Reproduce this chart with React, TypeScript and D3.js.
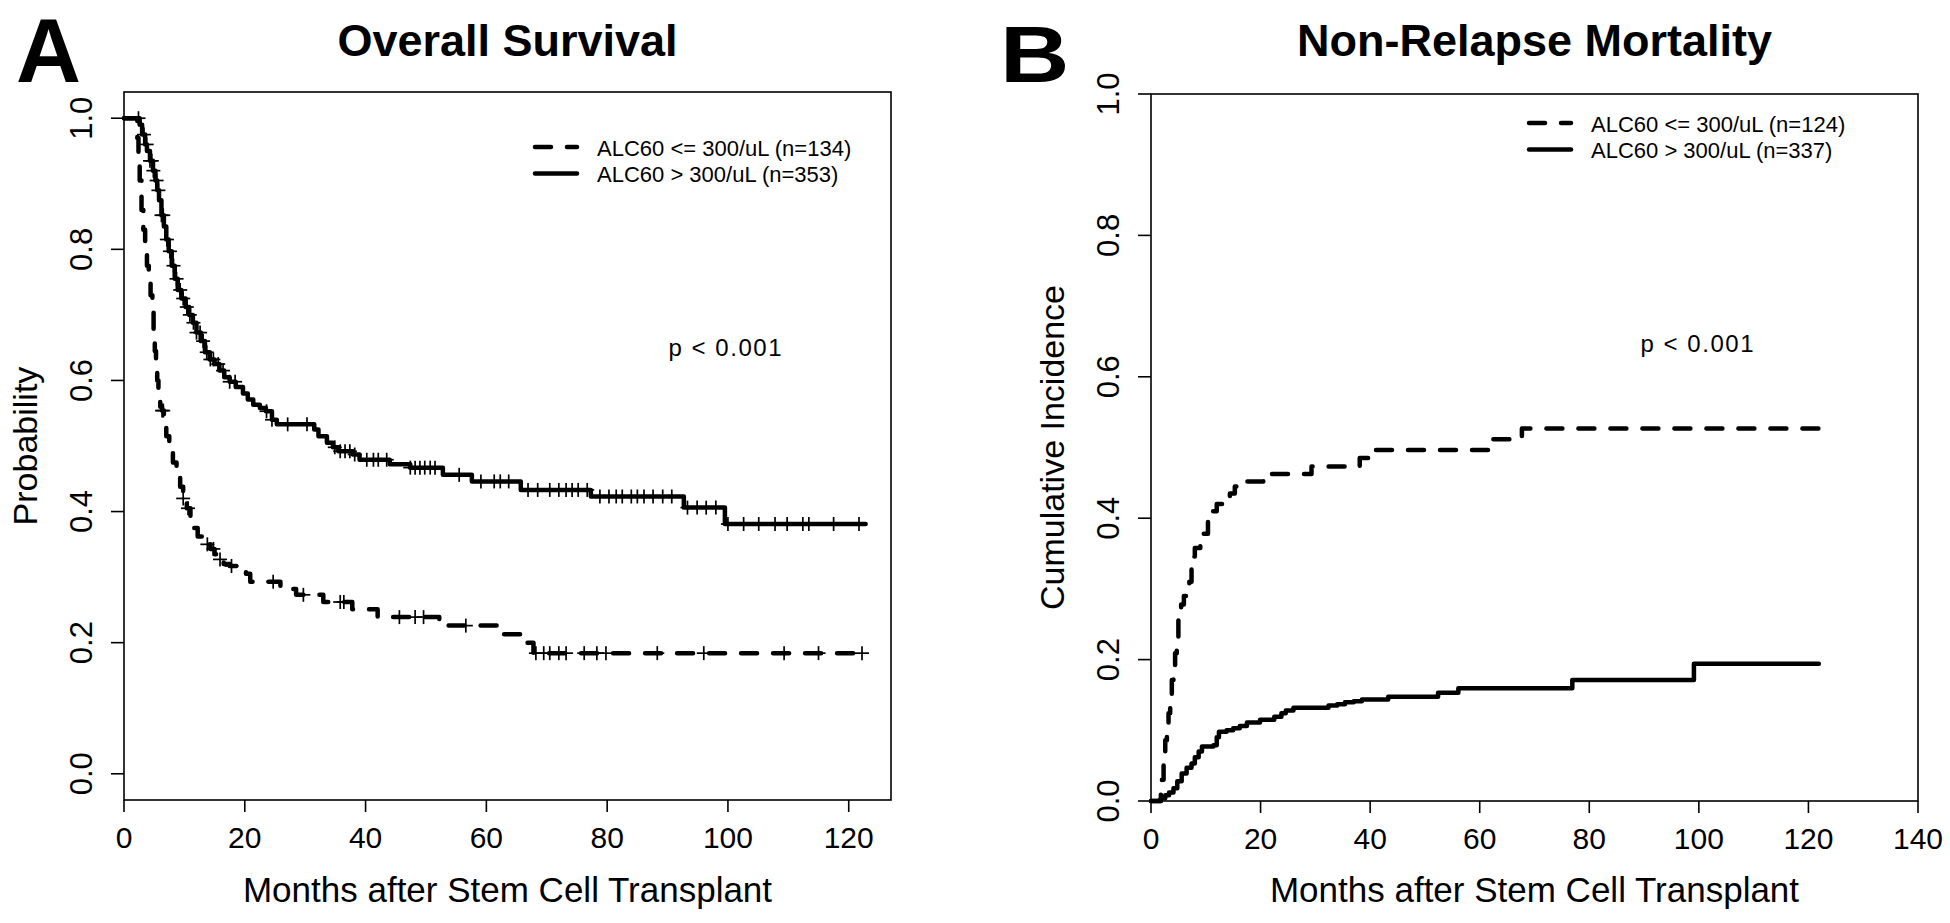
import React from 'react';
import * as d3 from 'd3';

// ---------- DATA ----------
// Panel A: Overall Survival (Kaplan-Meier), step times (months) and survival after each step
const osLowTimes = [0, 2.2, 2.4, 2.6, 2.9, 3.2, 3.5, 3.8, 4.1, 4.4, 4.7, 4.9, 5.1, 5.3, 5.5, 5.7, 6.0, 6.3, 6.6, 7.0, 7.5, 8.1, 8.7, 9.3, 9.8, 10.4, 11.0, 11.6, 12.2, 13.0, 13.5, 14.3, 15.0, 15.5, 16.5, 17.5, 20.2, 20.9, 25.9, 28.5, 33.0, 37.8, 42.0, 52.2, 62.8, 66.5, 67.8];
const osLowSurv = [1.0, 0.97, 0.945, 0.905, 0.86, 0.83, 0.8, 0.775, 0.755, 0.73, 0.71, 0.665, 0.645, 0.62, 0.6, 0.575, 0.56, 0.554, 0.537, 0.515, 0.495, 0.475, 0.455, 0.438, 0.42, 0.405, 0.39, 0.375, 0.362, 0.355, 0.35, 0.343, 0.335, 0.327, 0.32, 0.317, 0.305, 0.293, 0.282, 0.273, 0.262, 0.251, 0.239, 0.226, 0.213, 0.2, 0.184];
const osLowEnd = 123.3;
const osLowCensor = [6.3, 6.5, 9.8, 10.6, 13.8, 14.8, 15.9, 17.8, 24.7, 29.7, 35.8, 36.4, 45.6, 48.2, 49.6, 56.6, 68.2, 69.5, 70.5, 72.0, 73.2, 76.2, 78.3, 79.8, 88.3, 96.0, 109.3, 115.0, 122.2];

const osHighTimes = [0, 2.6, 3.0, 3.5, 3.8, 4.3, 4.8, 5.2, 5.5, 5.8, 6.2, 6.6, 7.0, 7.4, 7.9, 8.4, 8.9, 9.5, 10.2, 10.8, 11.4, 12.0, 12.7, 13.4, 14.2, 15.0, 15.8, 16.6, 17.5, 18.5, 19.7, 20.5, 21.4, 22.5, 23.5, 24.5, 25.3, 31.5, 32.2, 33.6, 34.6, 35.5, 37.9, 39.0, 44.0, 47.4, 52.8, 57.6, 65.7, 77.3, 92.7, 99.5];
const osHighSurv = [1.0, 0.99, 0.975, 0.96, 0.95, 0.935, 0.92, 0.905, 0.89, 0.875, 0.852, 0.835, 0.815, 0.797, 0.775, 0.755, 0.738, 0.725, 0.712, 0.7, 0.688, 0.673, 0.66, 0.643, 0.632, 0.625, 0.615, 0.605, 0.598, 0.59, 0.58, 0.571, 0.563, 0.558, 0.553, 0.54, 0.533, 0.525, 0.515, 0.505, 0.498, 0.492, 0.487, 0.479, 0.472, 0.467, 0.456, 0.446, 0.433, 0.423, 0.406, 0.381];
const osHighEnd = 122.8;
const osHighCensor = [2.4, 3.3, 3.75, 4.3, 4.6, 4.86, 5.4, 5.7, 6.2, 6.5, 7.1, 7.6, 8.2, 8.7, 9.3, 9.8, 10.4, 10.9, 11.5, 12.0, 12.6, 13.1, 13.7, 14.3, 14.8, 15.6, 16.4, 17.5, 18.4, 23.6, 24.5, 27.1, 30.3, 34.9, 35.8, 36.6, 37.4, 38.2, 40.2, 41.3, 42.1, 43.5, 47.4, 48.2, 49.0, 49.8, 50.7, 51.5, 55.5, 59.1, 61.3, 62.3, 63.7, 66.9, 68.5, 70.5, 72.0, 73.2, 74.2, 75.2, 76.7, 78.8, 80.3, 81.5, 82.5, 84.0, 85.0, 86.1, 87.6, 89.2, 90.7, 93.3, 94.9, 96.4, 98.0, 100.0, 102.6, 105.1, 107.8, 109.8, 112.4, 113.4, 117.5, 121.7];

// Panel B: Non-Relapse Mortality (cumulative incidence)
const nrmLowTimes = [0, 1.8, 2.0, 2.3, 2.6, 2.9, 3.2, 3.5, 3.8, 4.1, 4.4, 4.7, 5.0, 5.5, 6.0, 6.5, 7.0, 7.4, 8.0, 9.0, 9.6, 10.4, 11.2, 12.0, 13.0, 14.4, 15.3, 16.2, 20.5, 29.3, 38.1, 40.8, 62.2, 67.7];
const nrmLowInc = [0, 0.01, 0.03, 0.058, 0.086, 0.105, 0.124, 0.148, 0.171, 0.19, 0.209, 0.232, 0.256, 0.278, 0.29, 0.298, 0.31, 0.346, 0.358, 0.37, 0.378, 0.395, 0.41, 0.42, 0.428, 0.435, 0.445, 0.452, 0.4625, 0.473, 0.485, 0.4965, 0.5115, 0.527];
const nrmLowEnd = 122.3;

const nrmHighTimes = [0, 1.8, 2.6, 3.3, 4.1, 4.8, 5.6, 6.5, 7.4, 8.0, 8.7, 9.3, 11.4, 12.0, 12.4, 13.8, 15.0, 16.2, 17.5, 19.9, 22.5, 23.8, 24.6, 26.0, 32.4, 34.0, 35.4, 37.0, 38.5, 43.3, 52.4, 56.1, 76.9, 99.1];
const nrmHighInc = [0, 0.004, 0.008, 0.012, 0.018, 0.028, 0.039, 0.047, 0.053, 0.062, 0.07, 0.077, 0.079, 0.09, 0.098, 0.1, 0.103, 0.106, 0.111, 0.115, 0.119, 0.124, 0.128, 0.132, 0.135, 0.137, 0.1395, 0.141, 0.1435, 0.1475, 0.153, 0.1594, 0.171, 0.194];
const nrmHighEnd = 121.9;

const osXTicks = [0, 20, 40, 60, 80, 100, 120];
const nrmXTicks = [0, 20, 40, 60, 80, 100, 120, 140];
const yTicks = [0, 0.2, 0.4, 0.6, 0.8, 1.0];
const yTickLabels = ['0.0', '0.2', '0.4', '0.6', '0.8', '1.0'];

const osLegend = ['ALC60 <= 300/uL (n=134)', 'ALC60 > 300/uL (n=353)'];
const nrmLegend = ['ALC60 <= 300/uL (n=124)', 'ALC60 > 300/uL (n=337)'];

const FONT = "'Liberation Sans', Arial, Helvetica, sans-serif";

type Series = { times: number[]; vals: number[]; end: number; dashed: boolean; censor?: number[] };

function stepValue(times: number[], vals: number[], t: number) {
  let v = vals[0];
  for (let i = 0; i < times.length; i++) if (times[i] <= t) v = vals[i];
  return v;
}

function Panel(props: {
  letter: string; letterX: number; letterSize: number; letterScale: number;
  title: string; left: number; right: number; top: number; bottom: number;
  xDomain: [number, number]; yDomain: [number, number]; xTicks: number[];
  yTitle: string; series: Series[]; legend: string[]; legendX: number; legendY: number;
  pX: number; pY: number;
}) {
  const { left, right, top, bottom } = props;
  const x = d3.scaleLinear().domain(props.xDomain).range([left, right]);
  const y = d3.scaleLinear().domain(props.yDomain).range([bottom, top]);
  const line = d3.line<[number, number]>().x(d => x(d[0])).y(d => y(d[1])).curve(d3.curveStepAfter);
  const cx = (left + right) / 2;
  const cy = (top + bottom) / 2;
  return (
    <g fontFamily={FONT} fill="#000">
      <text transform={`translate(${props.letterX},82) scale(${props.letterScale},1)`} fontSize={props.letterSize} fontWeight="bold">{props.letter}</text>
      <text x={cx} y={56} textAnchor="middle" fontSize={45} fontWeight="bold">{props.title}</text>
      <rect x={left} y={top} width={right - left} height={bottom - top} fill="none" stroke="#000" strokeWidth={1.6} />
      {props.xTicks.map(t => (
        <g key={'x' + t}>
          <line x1={x(t)} x2={x(t)} y1={bottom} y2={bottom + 12} stroke="#000" strokeWidth={1.6} />
          <text x={x(t)} y={bottom + 48} textAnchor="middle" fontSize={30}>{t}</text>
        </g>
      ))}
      {yTicks.map((t, i) => (
        <g key={'y' + t}>
          <line x1={left - 13} x2={left} y1={y(t)} y2={y(t)} stroke="#000" strokeWidth={1.6} />
          <text transform={`translate(${left - 32},${y(t)}) rotate(-90)`} textAnchor="middle" fontSize={31}>{yTickLabels[i]}</text>
        </g>
      ))}
      <text x={cx} y={902} textAnchor="middle" fontSize={35}>Months after Stem Cell Transplant</text>
      <text transform={`translate(${left - 87},${cy}) rotate(-90)`} textAnchor="middle" fontSize={34}>{props.yTitle}</text>
      {props.series.map((s, i) => {
        const pts: [number, number][] = s.times.map((t, j) => [t, s.vals[j]] as [number, number]);
        pts.push([s.end, s.vals[s.vals.length - 1]]);
        return (
          <g key={'s' + i}>
            <path d={line(pts) || ''} fill="none" stroke="#000" strokeWidth={4.5}
              strokeDasharray={s.dashed ? '16,16' : undefined} strokeLinecap="round" strokeLinejoin="round" />
            {(s.censor || []).map((c, k) => {
              const px = x(c), py = y(stepValue(s.times, s.vals, c));
              return (
                <g key={k} stroke="#000" strokeWidth={1.7}>
                  <line x1={px - 7} x2={px + 7} y1={py} y2={py} />
                  <line x1={px} x2={px} y1={py - 7} y2={py + 7} />
                </g>
              );
            })}
          </g>
        );
      })}
      {props.legend.map((lab, i) => (
        <g key={'l' + i}>
          <line x1={props.legendX} x2={props.legendX + 42} y1={props.legendY + i * 26.5} y2={props.legendY + i * 26.5}
            stroke="#000" strokeWidth={4.5} strokeLinecap="round" strokeDasharray={i === 0 ? '16,16' : undefined} />
          <text x={props.legendX + 62} y={props.legendY + i * 26.5 + 8.5} fontSize={22}>{lab}</text>
        </g>
      ))}
      <text x={props.pX} y={props.pY} textAnchor="middle" fontSize={24} textLength={113} lengthAdjust="spacing">p &lt; 0.001</text>
    </g>
  );
}

export default function App() {
  return (
    <svg width={1950} height={923} style={{ position: 'absolute', left: 0, top: 0, background: '#fff' }}>
      <rect x={0} y={0} width={1950} height={923} fill="#fff" />
      <Panel letter="A" letterX={16} letterSize={90} letterScale={1}
        title="Overall Survival" left={124} right={891} top={92} bottom={800}
        xDomain={[0, 127]} yDomain={[-0.04, 1.04]} xTicks={osXTicks} yTitle="Probability"
        series={[
          { times: osLowTimes, vals: osLowSurv, end: osLowEnd, dashed: true, censor: osLowCensor },
          { times: osHighTimes, vals: osHighSurv, end: osHighEnd, dashed: false, censor: osHighCensor },
        ]}
        legend={osLegend} legendX={535} legendY={147} pX={725} pY={356} />
      <Panel letter="B" letterX={1000} letterSize={80} letterScale={1.2}
        title="Non-Relapse Mortality" left={1151} right={1918} top={94} bottom={801}
        xDomain={[0, 140]} yDomain={[0, 1]} xTicks={nrmXTicks} yTitle="Cumulative Incidence"
        series={[
          { times: nrmLowTimes, vals: nrmLowInc, end: nrmLowEnd, dashed: true },
          { times: nrmHighTimes, vals: nrmHighInc, end: nrmHighEnd, dashed: false },
        ]}
        legend={nrmLegend} legendX={1529} legendY={123} pX={1697} pY={352} />
    </svg>
  );
}
